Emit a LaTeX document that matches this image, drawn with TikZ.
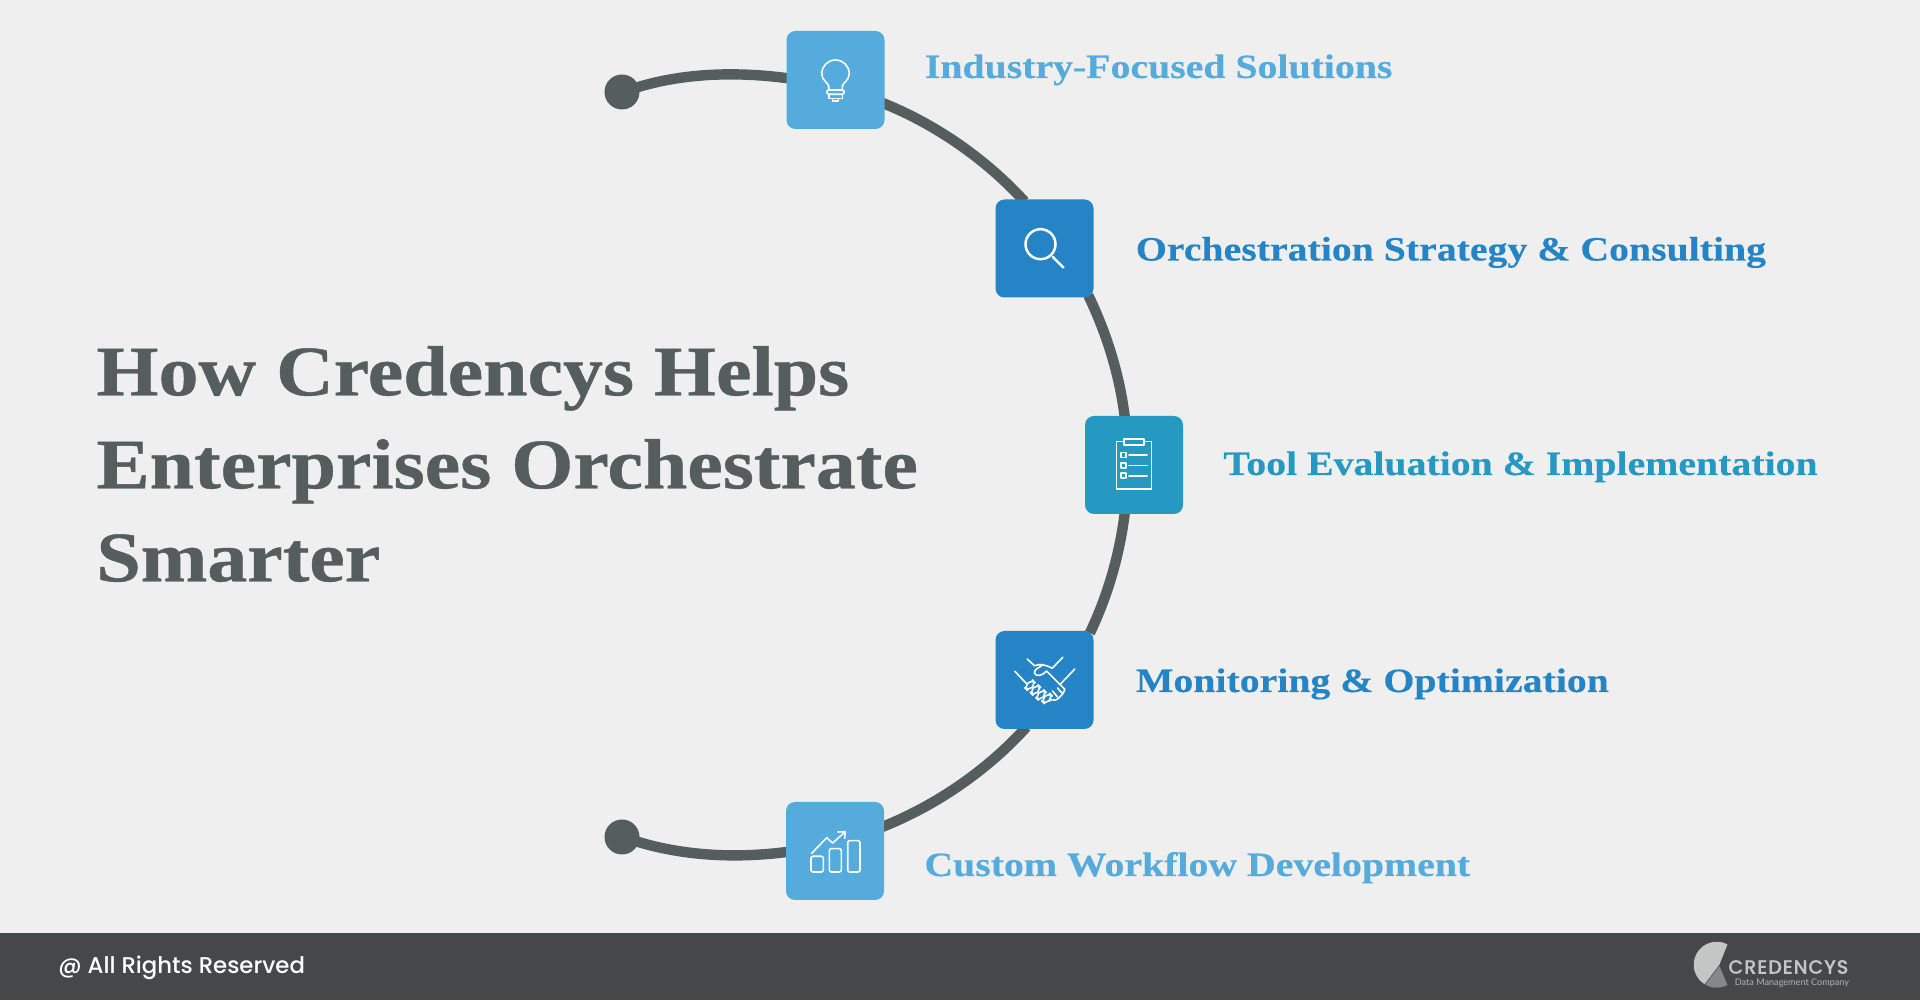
\documentclass[tikz,border=0pt]{standalone}
\usepackage{fontspec}
\usepackage{tikz}
\usetikzlibrary{positioning,backgrounds}
\newfontfamily\headbold{Liberation Serif Bold}[FakeStretch=1.125,FakeBold=.6]
\newfontfamily\labelbold{Liberation Serif Bold}[FakeStretch=1.17,FakeBold=.3]
\newfontfamily\footfont{Poppins Medium}
\newfontfamily\brandfont{Poppins Medium}[LetterSpace=4,FakeBold=.4]
\newfontfamily\smallfont{Lato}
\definecolor{pagebg}{HTML}{EFEFEF}
\definecolor{slate}{HTML}{555E5D}
\definecolor{footbar}{HTML}{454748}
\definecolor{skyblue}{HTML}{54ABDC}
\definecolor{midblue}{HTML}{2584C5}
\definecolor{tealblue}{HTML}{2599C1}
\definecolor{logolight}{HTML}{C4C6C6}
\definecolor{logodark}{HTML}{858888}
\tikzset{
  iconbox/.style={rectangle, minimum size=49pt, inner sep=0pt, outer sep=-1pt, rounded corners=4.5pt, fill=#1},
  enddot/.style={circle, minimum size=17.5pt, inner sep=0pt, outer sep=-1pt, fill=slate},
  spine/.style={draw=slate, line width=5.2pt, looseness=.855},
  iconline/.style={draw=white, line width=.8pt, line cap=round, line join=round},
  steplabel/.style={inner sep=0pt, text height=14pt, text depth=2pt, font=\labelbold\fontsize{17}{21}\selectfont, text=#1},
}
\begin{document}
\begin{tikzpicture}[x=.5pt,y=.5pt,node distance=21pt]
    \useasboundingbox (0,0) rectangle (1920,1000);

    \node[iconbox=skyblue]  (box1) at (835.5,920) {};
    \node[iconbox=midblue]  (box2) at (1044.5,751.5) {};
    \node[iconbox=tealblue] (box3) at (1134,535) {};
    \node[iconbox=midblue]  (box4) at (1044.5,320) {};
    \node[iconbox=skyblue]  (box5) at (835,149) {};
    \node[enddot] (dot1) at (622,908) {};
    \node[enddot] (dot2) at (622,163) {};

    \node[steplabel=skyblue,  right=of box1, anchor=west, yshift=7pt]           (lab1) {Industry-Focused Solutions};
    \node[steplabel=midblue,  right=of box2, anchor=west, xshift=1pt]           (lab2) {Orchestration Strategy \& Consulting};
    \node[steplabel=tealblue, right=of box3, anchor=west, yshift=1pt]           (lab3) {Tool Evaluation \& Implementation};
    \node[steplabel=midblue,  right=of box4, anchor=west, xshift=1pt]           (lab4) {Monitoring \& Optimization};
    \node[steplabel=skyblue,  right=of box5, anchor=west, yshift=-6.5pt]        (lab5) {Custom Workflow Development};

    \node[inner sep=0pt, anchor=west, align=left, text=slate, font=\headbold\fontsize{35.5}{46.5}\selectfont] (title) at (96,536)
      {How Credencys Helps\\Enterprises Orchestrate\\Smarter};

    \begin{scope}[on background layer]
      \fill[pagebg] (0,0) rectangle (1920,1000);
      \fill[footbar] (0,0) rectangle (1920,67);
      \path[spine] (dot1) edge[out=17,in=172.4] (box1.178)
            (box1.-26.3) edge[out=-21.9,in=132.5] (box2.113)
            (box2.-47.1) edge[out=-64.2,in=96.9] (box3.101.8)
            (box3.-101.8) edge[out=-96.9,in=64.5] (box4.46.6)
            (box4.-111.6) edge[out=-132.2,in=21.8] (box5.27)
            (box5.181) edge[out=-172.5,in=-17] (dot2);
    \end{scope}

    % bulb
    \begin{scope}[shift={(box1.center)}]
      \draw[iconline] (-6.8,-10) -- (-6.8,-6) .. controls (-7.5,-3) and (-13.75,0) .. (-13.75,6.25)
        arc[start angle=180,end angle=0,radius=13.75]
        .. controls (13.75,0) and (7.5,-3) .. (6.8,-6) -- (6.8,-10);
      \draw[iconline,rounded corners=1pt] (-8.6,-10) rectangle (8.6,-14.3);
      \draw[iconline] (-6.8,-14.3) -- (-6.8,-18.7) -- (6.8,-18.7) -- (6.8,-14.3);
      \draw[iconline] (-2.9,-18.7) -- (-2.9,-21) -- (2.9,-21) -- (2.9,-18.7);
    \end{scope}

    % magnifier
    \begin{scope}[shift={(box2.center)}]
      \draw[iconline,line width=1.25pt] (-4,4.3) circle[radius=15];
      \draw[iconline,line width=1.25pt] (8.2,-8.3) -- (18.9,-19);
    \end{scope}

    % clipboard
    \begin{scope}[shift={(box3.center)}]
      \draw[iconline] (-10,23.3) -- (-17.7,23.3) -- (-17.7,-24) -- (17.3,-24) -- (17.3,23.3) -- (10,23.3);
      \draw[iconline] (-10,20) rectangle (10,25.7);
      \foreach \rowy in {9.8,-.5,-10.8} {
        \draw[iconline] (-13.3,\rowy+2.5) rectangle (-8,\rowy-2.5);
        \draw[iconline] (-5,\rowy) -- (13,\rowy);
      }
    \end{scope}

    % handshake
    \begin{scope}[shift={(box4.center)}]
      \draw[iconline] (-17.3,21) -- (-10,14.3) .. controls (-5,16) and (0,16) .. (7.7,11.7) -- (18.3,22.7);
      \draw[iconline] (-29.7,8.7) -- (-18.3,-3.3);
      \draw[iconline] (30.3,11) -- (16,-4);
      \draw[iconline] (-1.5,15.5) .. controls (-5,12) and (-11,11) .. (-10,7) .. controls (-9,3) and (-2,4) .. (2,9)
        -- (20,-9) .. controls (21,-12) and (12,-22) .. (9,-20) .. controls (7,-18) and (6,-21) .. (5,-21);
      \draw[iconline] (13,-8) -- (17.5,-13);
      \draw[iconline] (8,-11) -- (13,-17);
      \foreach \fx/\fy in {-14.5/-5.2,-9/-10,-3.5/-15,2.5/-18.5} {
        \draw[iconline,rounded corners=2.4pt,rotate around={45:(\fx,\fy)}] (\fx-5.5,\fy-2.8) rectangle (\fx+5.5,\fy+2.8);
      }
    \end{scope}

    % chart
    \begin{scope}[shift={(box5.center)}]
      \draw[iconline,rounded corners=1pt] (-24,-21) rectangle (-11.7,-5.3);
      \draw[iconline,rounded corners=1pt] (-5.7,-21) rectangle (6.3,2.3);
      \draw[iconline,rounded corners=1pt] (12.7,-21) rectangle (25,10.3);
      \draw[iconline] (-23.3,-2.3) -- (-8.3,13.3) -- (-2.3,8) -- (10.3,19.3);
      \draw[iconline] (3,19) -- (10.3,19.3) -- (9.7,12.7);
    \end{scope}

    \node[inner sep=0pt, anchor=west, text=white, font=\footfont\fontsize{11.4}{14}\selectfont] (rights) at (58,32) {@ All Rights Reserved};

    % logo
    \coordinate (logo) at (1716.7,35.3);
    \begin{scope}[shift={(logo)}]
      \fill[logolight] (2.7,.1) -- (62:23) arc[start angle=62,end angle=238,radius=23] -- cycle;
      \fill[logodark] (2.7,-1.3) -- (240:23) arc[start angle=240,end angle=298,radius=23] -- cycle;
    \end{scope}
    \node[inner sep=0pt, anchor=west, text=logolight, font=\brandfont\fontsize{9.7}{12}\selectfont] (brand) at (1728,33) {CREDENCYS};
    \node[inner sep=0pt, anchor=west, text=logolight!85!footbar, font=\smallfont\fontsize{4.55}{6}\selectfont] (tagline) at (1734.5,16.5) {Data Management Company};
\end{tikzpicture}
\end{document}
